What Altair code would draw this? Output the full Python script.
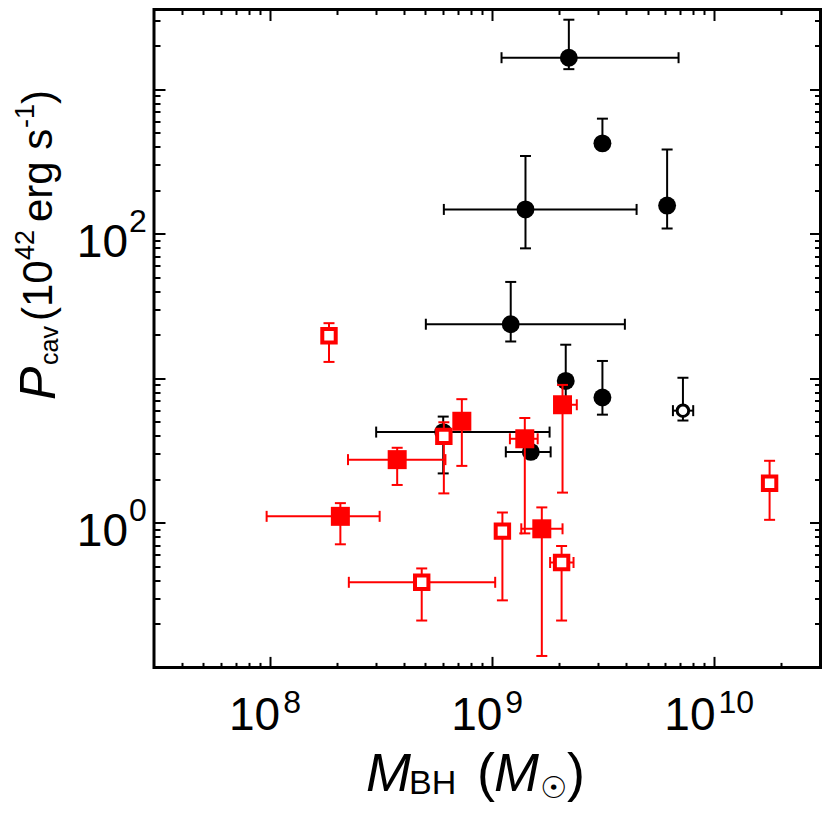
import altair as alt
import pandas as pd

FONT = "Liberation Sans"

# ---------------- data ----------------
# black filled circles
bf_mass = [2.21e9, 3.13e9, 1.41e9, 6.12e9, 1.21e9, 2.14e9, 3.13e9, 6.01e8, 1.49e9]
bf_mass_lo = [1.10e9, None, 6.05e8, None, 5.02e8, None, None, 3.00e8, 1.15e9]
bf_mass_hi = [6.89e9, None, 4.46e9, None, 3.95e9, None, None, 1.81e9, 1.83e9]
bf_pcav = [1656, 423, 147.6, 157, 23.7, 9.6, 7.38, 4.25, 3.10]
bf_pcav_lo = [1380, None, 79.4, 109, 18.0, 7.07, 5.61, 2.20, None]
bf_pcav_hi = [3034, 627, 346, 384, 46.5, 17.1, 13.2, 5.44, None]

# black open circle
bo_mass = [7.21e9]
bo_mass_lo = [6.50e9]
bo_mass_hi = [8.02e9]
bo_pcav = [5.98]
bo_pcav_lo = [5.11]
bo_pcav_hi = [10.1]

# red filled squares
rf_mass = [7.29e8, 3.73e8, 1.40e9, 2.07e9, 2.07e8, 1.67e9]
rf_mass_lo = [None, 2.24e8, 1.20e9, 1.92e9, 9.64e7, 1.35e9]
rf_mass_hi = [None, 6.15e8, 1.60e9, 2.40e9, 3.11e8, 2.07e9]
rf_pcav = [5.05, 2.74, 3.82, 6.57, 1.11, 0.91]
rf_pcav_lo = [2.48, 1.83, 0.846, 1.62, 0.711, 0.120]
rf_pcav_hi = [7.18, 3.31, 5.32, 9.01, 1.37, 1.28]

# red open squares
ro_mass = [1.84e8, 6.05e8, 1.77e10, 1.11e9, 4.81e8, 2.05e9]
ro_mass_lo = [None, None, None, None, 2.26e8, 1.82e9]
ro_mass_hi = [None, None, None, None, 1.03e9, 2.32e9]
ro_pcav = [19.7, 3.97, 1.88, 0.877, 0.388, 0.532]
ro_pcav_lo = [13.0, 1.60, 1.05, 0.291, 0.211, 0.211]
ro_pcav_hi = [24.1, 4.97, 2.69, 1.18, 0.484, 0.692]

# axis ticks
x_major = [1e8, 1e9, 1e10]
x_minor = [4e7, 5e7, 6e7, 7e7, 8e7, 9e7,
           2e8, 3e8, 4e8, 5e8, 6e8, 7e8, 8e8, 9e8,
           2e9, 3e9, 4e9, 5e9, 6e9, 7e9, 8e9, 9e9, 2e10]
y_major = [1, 10, 100, 1000]
y_minor = [0.2, 0.3, 0.4, 0.5, 0.6, 0.7, 0.8, 0.9,
           2, 3, 4, 5, 6, 7, 8, 9,
           20, 30, 40, 50, 60, 70, 80, 90,
           200, 300, 400, 500, 600, 700, 800, 900, 2000, 3000]
x_tick_labels = [(1e8, "8"), (1e9, "9"), (1e10, "10")]
y_tick_labels = [(1, "0"), (100, "2")]

# ---------------- layout ----------------
OX, OY = 154.0, 9.5          # page position of the plot origin
W, H = 666.5, 657.9          # plot area
xs = alt.Scale(type="log", domain=[3e7, 3e10], nice=False)
ys = alt.Scale(type="log", domain=[0.1, 3570], nice=False)


def split(mass, mlo, mhi, p, plo, phi):
    vr, hr, vc, hc = [], [], [], []
    for i in range(len(mass)):
        m, pp = mass[i], p[i]
        if plo[i] is not None or phi[i] is not None:
            vr.append({"m": m, "lo": plo[i] if plo[i] is not None else pp,
                       "hi": phi[i] if phi[i] is not None else pp})
            for c in (plo[i], phi[i]):
                if c is not None:
                    vc.append({"m": m, "p": c})
        if mlo[i] is not None or mhi[i] is not None:
            hr.append({"p": pp, "lo": mlo[i] if mlo[i] is not None else m,
                       "hi": mhi[i] if mhi[i] is not None else m})
            for c in (mlo[i], mhi[i]):
                if c is not None:
                    hc.append({"m": c, "p": pp})
    return (pd.DataFrame({"m": mass, "p": p}), pd.DataFrame(vr), pd.DataFrame(hr),
            pd.DataFrame(vc), pd.DataFrame(hc))


def minor_test(majors):
    return "indexof([" + ",".join(repr(float(v)) for v in majors) + "], datum.value) < 0"


def tick_axis(orient, majors, values, minor_len, major_len=11):
    test = minor_test(majors)
    return alt.Axis(
        orient=orient, values=values, offset=-major_len, tickSize=major_len,
        tickWidth=2, tickColor="black", domain=False, labels=False, grid=False,
        title=None,
        tickDash={"condition": {"test": test, "value": [minor_len, major_len - minor_len]},
                  "value": [major_len, 0]},
        tickDashOffset={"condition": {"test": test, "value": minor_len}, "value": 0},
    )


xb_axis = tick_axis("bottom", x_major, x_major + x_minor, 5)
xt_axis = tick_axis("top", x_major, x_major + x_minor, 5)
yl_axis = tick_axis("left", y_major, y_major + y_minor, 6)
yr_axis = tick_axis("right", y_major, y_major + y_minor, 6)


def errbars(parts, color, xaxis=None, yaxis=None):
    pts, vr, hr, vc, hc = parts
    layers = []
    if len(hr):
        layers.append(alt.Chart(hr).mark_rule(color=color, strokeWidth=2).encode(
            x=alt.X("lo:Q", scale=xs, axis=xaxis), x2="hi:Q",
            y=alt.Y("p:Q", scale=ys, axis=yaxis)))
    if len(vr):
        layers.append(alt.Chart(vr).mark_rule(color=color, strokeWidth=2).encode(
            x=alt.X("m:Q", scale=xs, axis=None),
            y=alt.Y("lo:Q", scale=ys, axis=None), y2="hi:Q"))
    if len(vc):
        layers.append(alt.Chart(vc).mark_tick(color=color, orient="horizontal", size=11,
                                              thickness=2, opacity=1).encode(
            x=alt.X("m:Q", scale=xs, axis=None), y=alt.Y("p:Q", scale=ys, axis=None)))
    if len(hc):
        layers.append(alt.Chart(hc).mark_tick(color=color, orient="vertical", size=11,
                                              thickness=2, opacity=1).encode(
            x=alt.X("m:Q", scale=xs, axis=None), y=alt.Y("p:Q", scale=ys, axis=None)))
    return layers


def enc():
    return dict(x=alt.X("m:Q", scale=xs, axis=None), y=alt.Y("p:Q", scale=ys, axis=None))


bf = split(bf_mass, bf_mass_lo, bf_mass_hi, bf_pcav, bf_pcav_lo, bf_pcav_hi)
bo = split(bo_mass, bo_mass_lo, bo_mass_hi, bo_pcav, bo_pcav_lo, bo_pcav_hi)
rf = split(rf_mass, rf_mass_lo, rf_mass_hi, rf_pcav, rf_pcav_lo, rf_pcav_hi)
ro = split(ro_mass, ro_mass_lo, ro_mass_hi, ro_pcav, ro_pcav_lo, ro_pcav_hi)

layers = []
layers += errbars(bf, "black", xb_axis, yl_axis)
layers += errbars(bo, "black")
layers.append(alt.Chart(bf[0]).mark_point(shape="circle", filled=True, size=320, color="black",
                                          opacity=1, strokeWidth=0).encode(**enc()))
layers.append(alt.Chart(bo[0]).mark_point(shape="circle", filled=True, size=133, fill="white",
                                          stroke="black", strokeWidth=3, opacity=1).encode(**enc()))
layers += errbars(rf, "red", xt_axis, yr_axis)
layers += errbars(ro, "red")
layers.append(alt.Chart(rf[0]).mark_point(shape="square", filled=True, size=361, color="red",
                                          opacity=1, strokeWidth=0).encode(**enc()))
layers.append(alt.Chart(ro[0]).mark_point(shape="square", filled=True, size=180, fill="white",
                                          stroke="red", strokeWidth=4, opacity=1).encode(**enc()))

# ---------------- tick labels (10 + superscript) ----------------
for v, e in x_tick_labels:
    two = len(e) > 1
    d = pd.DataFrame({"v": [v]})
    layers.append(alt.Chart(d).mark_text(text="10", align="right", baseline="alphabetic",
                                         fontSize=46, font=FONT, color="black",
                                         dx=1 if two else 10).encode(
        x=alt.X("v:Q", scale=xs, axis=None), y=alt.value(730 - OY)))
    layers.append(alt.Chart(d).mark_text(text=e, align="left", baseline="alphabetic",
                                         fontSize=32, font=FONT, color="black",
                                         dx=4 if two else 13).encode(
        x=alt.X("v:Q", scale=xs, axis=None), y=alt.value(713 - OY)))
for v, e in y_tick_labels:
    d = pd.DataFrame({"v": [v]})
    layers.append(alt.Chart(d).mark_text(text="10", align="right", baseline="alphabetic",
                                         fontSize=46, font=FONT, color="black", dy=23).encode(
        x=alt.value(128 - OX), y=alt.Y("v:Q", scale=ys, axis=None)))
    layers.append(alt.Chart(d).mark_text(text=e, align="left", baseline="alphabetic",
                                         fontSize=32, font=FONT, color="black", dy=-2).encode(
        x=alt.value(129 - OX), y=alt.Y("v:Q", scale=ys, axis=None)))

# ---------------- axis titles (rich text as runs) ----------------
one = pd.DataFrame({"a": [0]})


def run(t, px, py, size, italic=False, angle=0, font=FONT):
    return alt.Chart(one).mark_text(text=t, align="left", baseline="alphabetic",
                                    fontSize=size, font=font, angle=angle,
                                    fontStyle="italic" if italic else "normal",
                                    color="black").encode(x=alt.value(px - OX), y=alt.value(py - OY))


# x title: M_BH (M_sun)
layers += [
    run("M", 366, 791, 54, italic=True),
    run("BH", 409, 794, 34),
    run("(", 477, 791, 54),
    run("M", 494, 791, 54, italic=True),
    run("\u2609", 540, 798, 30, font="DejaVu Sans"),
    run(")", 567, 791, 54),
]
# y title: P_cav (10^42 erg s^-1), rotated
layers += [
    run("P", 55, 400, 50, italic=True, angle=270),
    run("cav", 58, 365, 25, angle=270),
    run("(10", 52, 321, 42, angle=270),
    run("42", 34, 260, 27, angle=270),
    run("erg s", 52, 222, 42, angle=270),
    run("-1", 34, 128, 27, angle=270),
    run(")", 52, 104, 42, angle=270),
]

chart = alt.layer(*layers).resolve_axis(x="independent", y="independent").properties(
    width=W, height=H,
    autosize=alt.AutoSizeParams(type="none"),
    padding={"left": OX - 8, "top": OY - 8, "right": 814 - (OX - 8) - W,
             "bottom": 798 - (OY - 8) - H},
    background="white",
).configure_view(stroke="black", strokeWidth=3)

chart.save("out.html", embed_options={"renderer": "svg", "actions": False})
